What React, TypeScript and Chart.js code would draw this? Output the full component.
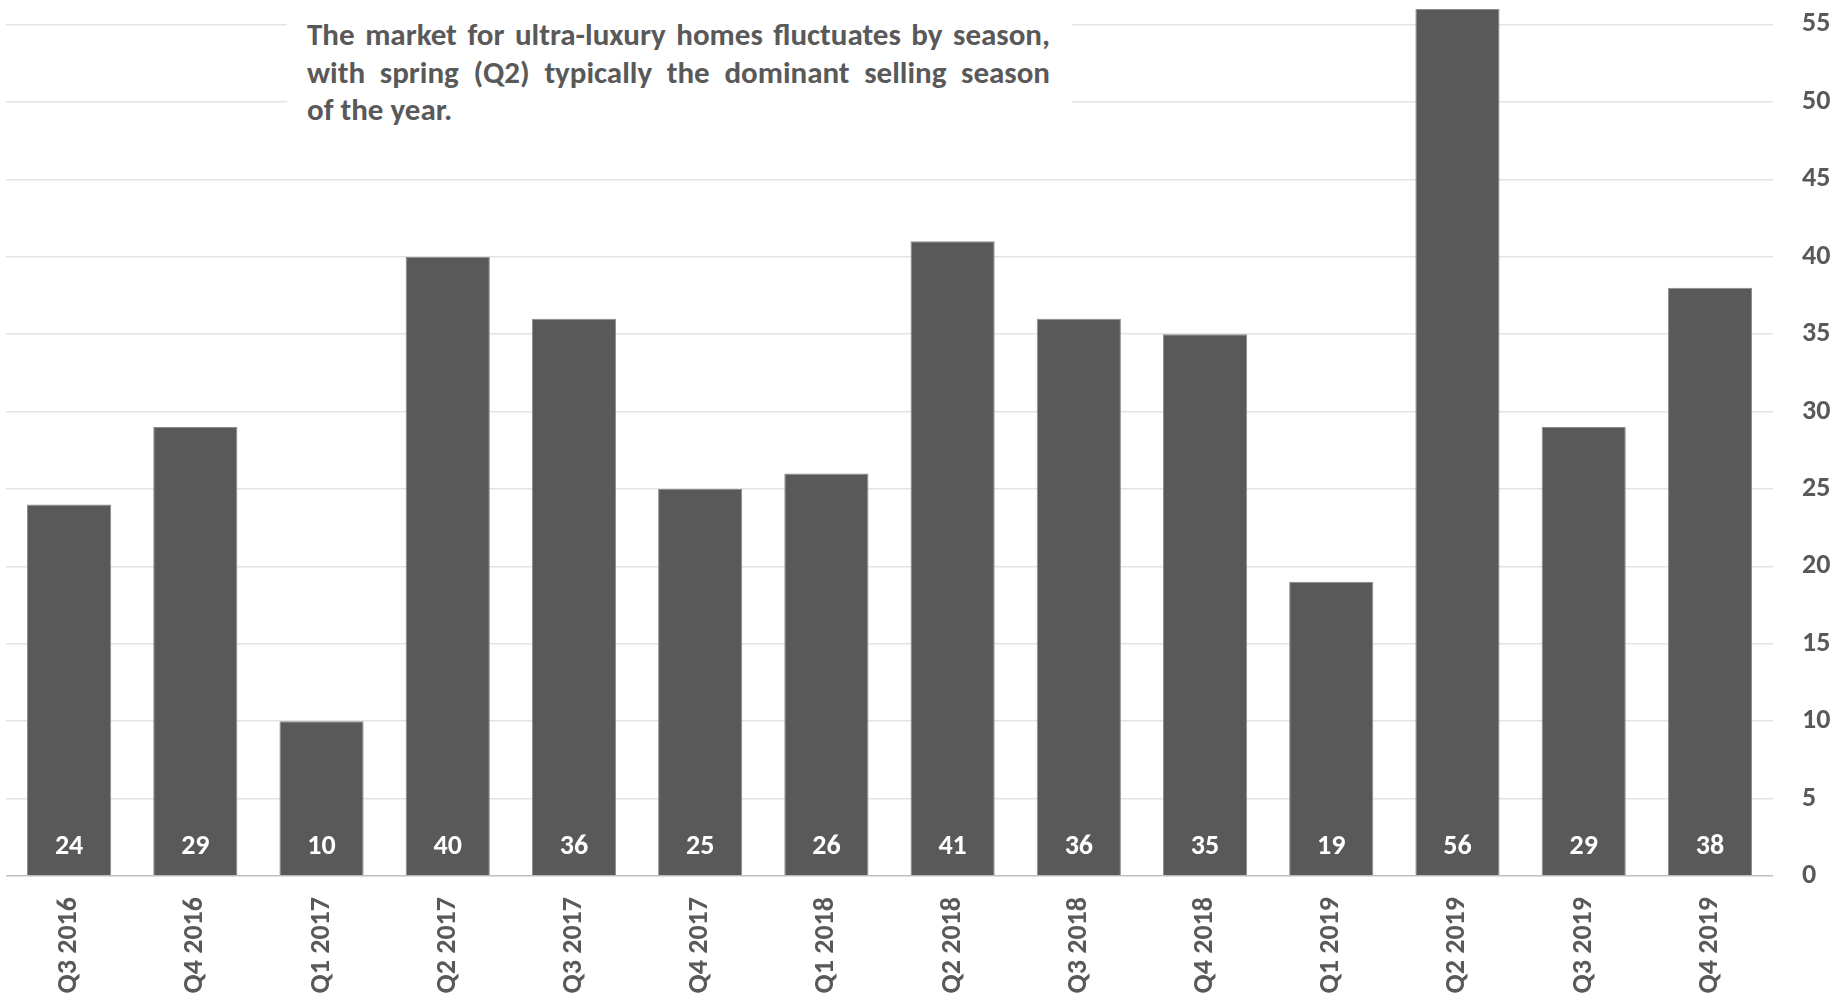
import React, { useEffect, useRef } from 'react';
import { Chart, registerables } from 'chart.js';

Chart.register(...registerables);

const categories = [
  'Q3 2016', 'Q4 2016', 'Q1 2017', 'Q2 2017', 'Q3 2017', 'Q4 2017', 'Q1 2018',
  'Q2 2018', 'Q3 2018', 'Q4 2018', 'Q1 2019', 'Q2 2019', 'Q3 2019', 'Q4 2019',
];
const sales = [24, 29, 10, 40, 36, 25, 26, 41, 36, 35, 19, 56, 29, 38];
const yAxisMax = 56;
const yTickValues = [0, 5, 10, 15, 20, 25, 30, 35, 40, 45, 50, 55];
const annotationLines = [
  'The market for ultra-luxury homes fluctuates by season,',
  'with spring (Q2) typically the dominant selling season',
  'of the year.',
];

const FONT = 'Carlito, "Open Sans", sans-serif';
const TEXT_COLOR = '#595959';

const barLabelPlugin = {
  id: 'barLabels',
  afterDatasetsDraw(chart: any) {
    const { ctx } = chart;
    const meta = chart.getDatasetMeta(0);
    const base = chart.scales.y.getPixelForValue(0);
    ctx.save();
    ctx.font = `bold 28px ${FONT}`;
    ctx.fillStyle = '#ffffff';
    ctx.textAlign = 'center';
    ctx.textBaseline = 'middle';
    meta.data.forEach((el: any, i: number) => {
      ctx.fillText(String(sales[i]), el.x, base - 29);
    });
    ctx.restore();
  },
};

export default function App() {
  const canvasRef = useRef<HTMLCanvasElement | null>(null);

  useEffect(() => {
    if (!canvasRef.current) return;
    const tickFont = { family: FONT, size: 28, weight: 'bold' as const };
    const chart = new Chart(canvasRef.current, {
      type: 'bar',
      data: {
        labels: categories,
        datasets: [
          {
            data: sales,
            backgroundColor: '#595959',
            borderColor: '#8c8c8c',
            borderWidth: 1,
            barPercentage: 0.667,
            categoryPercentage: 1,
          },
        ],
      },
      options: {
        animation: false,
        responsive: false,
        maintainAspectRatio: false,
        layout: { padding: { left: 6, top: 9, right: 0, bottom: 0 } },
        plugins: { legend: { display: false }, tooltip: { enabled: false } },
        scales: {
          x: {
            grid: { display: false, drawTicks: false },
            border: { display: false },
            ticks: {
              color: TEXT_COLOR,
              font: tickFont,
              minRotation: 90,
              maxRotation: 90,
              padding: 21,
              autoSkip: false,
            },
            afterFit: (s: any) => {
              s.height = 121;
              s.paddingLeft = 0;
              s.paddingRight = 0;
            },
          },
          y: {
            position: 'right',
            min: 0,
            max: yAxisMax,
            border: { display: false },
            grid: {
              drawTicks: false,
              color: (c: any) => (c.tick && c.tick.value === 0 ? '#bfbfbf' : '#e3e3e3'),
              lineWidth: 1.5,
            },
            ticks: {
              padding: 29,
              crossAlign: 'near',
              color: TEXT_COLOR,
              font: tickFont,
              autoSkip: false,
            },
            afterBuildTicks: (s: any) => {
              s.ticks = yTickValues.map((v) => ({ value: v }));
            },
            afterFit: (s: any) => {
              s.width = 72;
              s.paddingTop = 0;
              s.paddingBottom = 0;
            },
          },
        },
      },
      plugins: [barLabelPlugin],
    } as any);
    return () => chart.destroy();
  }, []);

  return (
    <div style={{ position: 'absolute', left: 0, top: 0, width: 1845, height: 997, background: '#fff' }}>
      <canvas ref={canvasRef} width={1845} height={997} style={{ width: 1845, height: 997, display: 'block' }} />
      <div
        style={{
          position: 'absolute',
          left: 287,
          top: 0,
          width: 785,
          height: 130,
          background: '#fff',
          boxSizing: 'border-box',
          padding: '16px 22px 0 20px',
          fontFamily: FONT,
          fontWeight: 'bold',
          fontSize: 31,
          color: TEXT_COLOR,
          lineHeight: '37.5px',
        }}
      >
        {annotationLines.map((line, i) => (
          <div
            key={i}
            style={{
              whiteSpace: 'nowrap',
              textAlign: 'justify',
              textAlignLast: i < annotationLines.length - 1 ? 'justify' : 'left',
            } as any}
          >
            {line}
          </div>
        ))}
      </div>
    </div>
  );
}
